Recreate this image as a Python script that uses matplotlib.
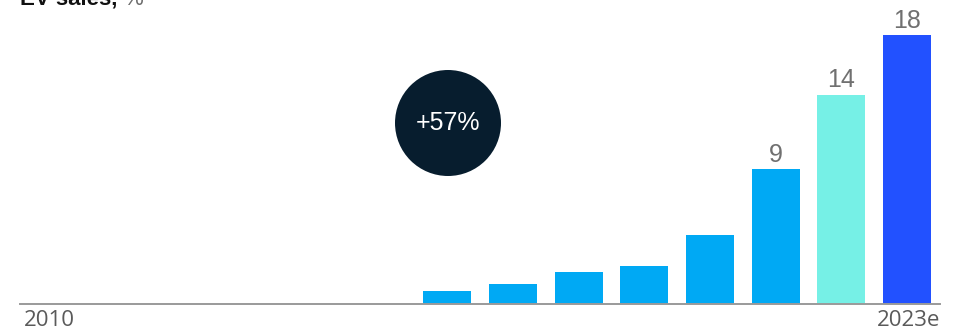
import matplotlib
matplotlib.use('Agg')
import matplotlib.pyplot as plt
from matplotlib.patches import Circle

# EV share of new car sales, %
years = ['2010', '2011', '2012', '2013', '2014', '2015', '2016',
         '2017', '2018', '2019', '2020', '2021', '2022', '2023e']
share = [0, 0, 0, 0, 0, 0, 0.84, 1.3, 2.1, 2.5, 4.6, 9, 14, 18]
labelled = {'2021': '9', '2022': '14', '2023e': '18'}
cagr_text = '+57%'

colors = ['#00a9f4'] * 12 + ['#76f0e6', '#2251ff']

fig = plt.figure(figsize=(9.64, 3.32), dpi=100)
ax = fig.add_axes([20 / 964, 28.5 / 332, 920 / 964, 298 / 332])

x = range(len(years))
bars = ax.bar(x, share, width=0.73, color=colors, zorder=2)

for i, (yr, val) in enumerate(zip(years, share)):
    if yr in labelled:
        ax.annotate(labelled[yr], (i, val), xytext=(0, 2), textcoords='offset points',
                    ha='center', va='bottom', fontsize=18, color='#707070',
                    family='Liberation Sans')

ax.set_xlim(-0.5, len(years) - 0.5)
ax.set_ylim(0, 20)
for s in ['top', 'right', 'left']:
    ax.spines[s].set_visible(False)
ax.spines['bottom'].set_color('#9a9a9a')
ax.spines['bottom'].set_linewidth(1.4)
ax.set_yticks([])
ax.set_xticks([])

# only first and last year on the axis
ax.annotate(years[0], (0, 0), xycoords='axes fraction', xytext=(3, -5),
            textcoords='offset points', ha='left', va='top', fontsize=16,
            color='#5a5a5a', family='Open Sans')
ax.annotate(years[-1], (1, 0), xycoords='axes fraction', xytext=(0, -5),
            textcoords='offset points', ha='right', va='top', fontsize=16,
            color='#5a5a5a', family='Open Sans')

# growth bubble
circ = Circle((4.48, 2.09), 0.53, transform=fig.dpi_scale_trans,
              facecolor='#071d2e', edgecolor='none')
fig.patches.append(circ)
fig.text(4.48, 2.09, cagr_text, transform=fig.dpi_scale_trans, ha='center', va='center',
         fontsize=18, color='white', family='Liberation Sans')

# title, clipped at the top edge
fig.text(20 / 964, 1 - 5 / 332, 'EV sales,', ha='left', va='baseline', fontsize=16,
         fontweight='bold', color='#111111', family='Liberation Sans')
fig.text(123 / 964, 1 - 5 / 332, '%', ha='left', va='baseline', fontsize=16,
         color='#6e6e6e', family='Liberation Sans')

plt.savefig('out.png', dpi=100)
